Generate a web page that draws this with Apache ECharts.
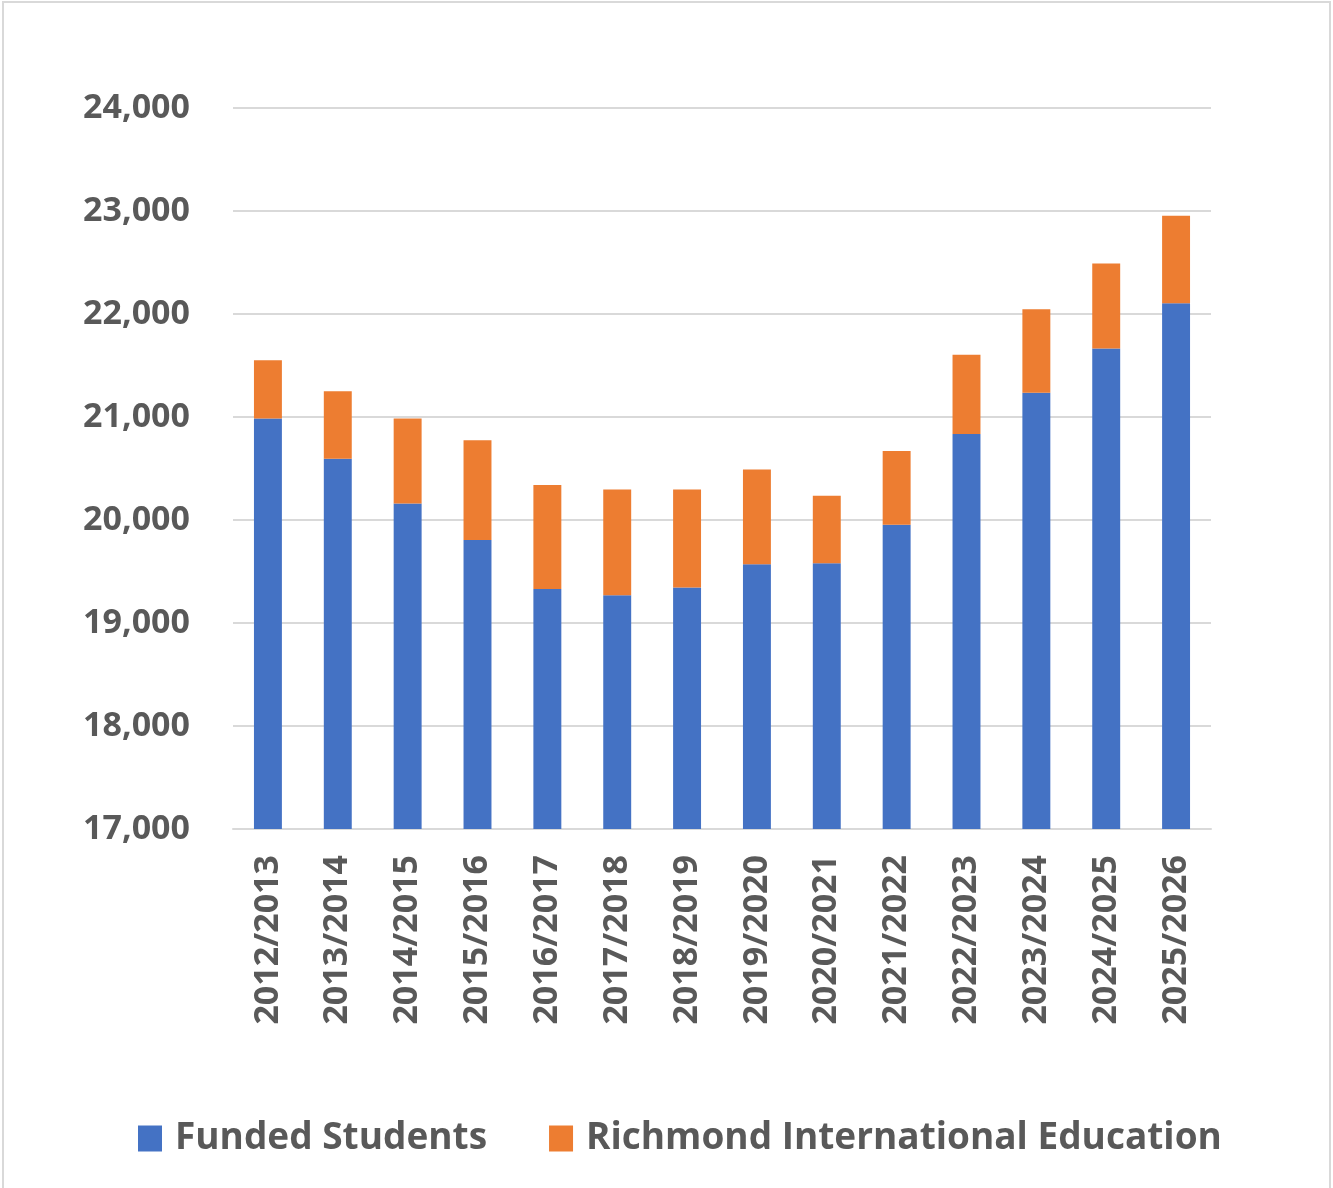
<!DOCTYPE html>
<html>
<head>
<meta charset="utf-8">
<script src="https://cdn.jsdelivr.net/npm/echarts@6/dist/echarts.min.js"></script>
<style>
  html, body { margin: 0; padding: 0; background: #fff; }
  #chart { width: 1333px; height: 1188px; }
</style>
</head>
<body>
<div id="chart"></div>
<script>
var years = ['2012/2013', '2013/2014', '2014/2015', '2015/2016', '2016/2017', '2017/2018', '2018/2019',
             '2019/2020', '2020/2021', '2021/2022', '2022/2023', '2023/2024', '2024/2025', '2025/2026'];
var funded = [20985, 20595, 20160, 19805, 19330, 19270, 19345, 19570, 19580, 19955, 20835, 21235, 21665, 22105];
var richmond = [565, 655, 825, 970, 1010, 1025, 950, 920, 655, 715, 770, 810, 825, 850];

var font = 'Open Sans';
var grey = '#595959';

var chart = echarts.init(document.getElementById('chart'));
chart.setOption({
    animation: false,
    color: ['#4472C4', '#ED7D31'],
    graphic: [{
        type: 'rect',
        shape: { x: 3, y: 2, width: 1327, height: 1200 },
        style: { fill: 'none', stroke: '#d9d9d9', lineWidth: 2 }
    }],
    grid: { left: 233, right: 122, top: 108, bottom: 359 },
    legend: {
        top: 1115,
        left: 133,
        itemWidth: 24,
        itemHeight: 26,
        itemGap: 62,
        icon: 'rect',
        textStyle: { fontFamily: font, fontSize: 37, fontWeight: 'bold', color: grey, padding: [0, 0, 0, 8] },
        data: ['Funded Students', 'Richmond International Education']
    },
    xAxis: {
        type: 'category',
        data: years,
        axisLine: { lineStyle: { color: '#d9d9d9', width: 2 } },
        axisTick: { show: false },
        axisLabel: {
            rotate: 90, margin: 26, interval: 0,
            fontFamily: font, fontSize: 34, fontWeight: 'bold', color: grey
        }
    },
    yAxis: {
        type: 'value',
        min: 17000, max: 24000, interval: 1000,
        axisLine: { show: false },
        axisTick: { show: false },
        splitLine: { lineStyle: { color: '#d9d9d9', width: 2 } },
        axisLabel: {
            margin: 43,
            fontFamily: font, fontSize: 34, fontWeight: 'bold', color: grey,
            formatter: function (v) { return v.toLocaleString('en-US'); }
        }
    },
    series: [{
        name: 'Funded Students',
        type: 'bar',
        stack: 'total',
        barWidth: '40%',
        data: funded
    }, {
        name: 'Richmond International Education',
        type: 'bar',
        stack: 'total',
        barWidth: '40%',
        data: richmond
    }]
});
</script>
</body>
</html>
